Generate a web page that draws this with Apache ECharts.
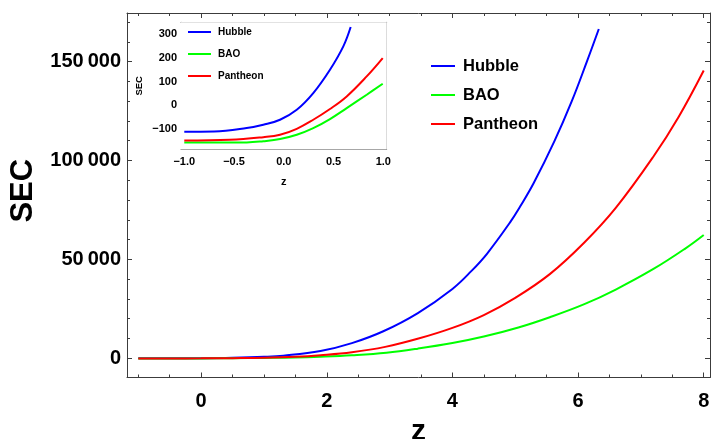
<!DOCTYPE html>
<html>
<head>
<meta charset="utf-8">
<script src="https://cdn.jsdelivr.net/npm/echarts@6.0.0/dist/echarts.min.js"></script>
<style>
  html, body { margin: 0; padding: 0; background: #fff; }
  #chart { width: 711px; height: 439px; }
</style>
</head>
<body>
<div id="chart"></div>
<script>
// ---- strong energy condition (SEC) vs redshift z ----
const seriesNames = ['Hubble', 'BAO', 'Pantheon'];
const seriesColors = ['#0000ff', '#00ff00', '#ff0000'];

// main panel: each curve sampled at its own z values
const zHubble   = [-1, -0.5, 0, 0.5, 1, 1.31, 1.9, 2.4, 2.9, 3.45, 4.0, 4.3, 4.55, 4.92, 5.08, 5.29, 5.62, 5.9, 6.14, 6.33];
const hubble    = [-110, -104, -52, 172, 650, 1250, 3600, 7600, 13600, 22800, 35000, 44000, 52800, 68800, 76800, 88300, 109500, 130000, 150000, 166500];
const zBao      = [-1, -0.5, 0, 0.5, 1, 1.5, 1.9, 2.4, 2.95, 3.45, 4.0, 4.5, 5.05, 5.55, 6.1, 6.6, 7.2, 7.7, 8];
const bao       = [-155, -154, -141, -48, 92, 300, 700, 1450, 2750, 4800, 7600, 10900, 15500, 20700, 27300, 34700, 45100, 55300, 62300];
const zPantheon = [-1, -0.5, 0, 0.5, 1, 1.5, 1.9, 2.4, 2.93, 3.46, 4.0, 4.5, 5.0, 5.55, 6.1, 6.6, 7.2, 7.6, 8];
const pantheon  = [-147, -143, -122, -6, 200, 700, 1500, 3000, 5700, 9900, 15300, 21800, 30500, 42500, 58500, 76000, 102000, 122000, 145500];

// inset panel (-1 <= z <= 1)
const zInsetHubble   = [-1, -0.7, -0.373, -0.206, -0.038, 0.13, 0.296, 0.464, 0.598, 0.672];
const hubbleInset    = [-110, -109, -95, -81, -60, -18, 52, 150, 248, 329];
const zInsetPantheon = [-1, -0.541, -0.206, -0.038, 0.13, 0.296, 0.464, 0.632, 0.833, 0.994];
const pantheonInset  = [-147, -144, -133, -123, -98, -60, -15, 38, 122, 199];
const zInsetBao      = [-1, -0.373, -0.206, -0.038, 0.13, 0.296, 0.464, 0.632, 0.833, 0.994];
const baoInset       = [-155, -155, -150, -141, -123, -95, -57, -11, 45, 91];

// tick positions
const mainXTicks  = [0, 2, 4, 6, 8];
const mainYTicks  = [0, 50000, 100000, 150000];
const insetXTicks = [-1, -0.5, 0, 0.5, 1];
const insetYTicks = [-100, 0, 100, 200, 300];

function steps(from, to, step, skip) {
  const out = [];
  for (let i = 0; from + i * step <= to + 1e-9; i++) {
    const v = Math.round((from + i * step) * 1e6) / 1e6;
    if (!skip.some(s => Math.abs(s - v) < 1e-9)) out.push(v);
  }
  return out;
}
const mainXMinor  = steps(-1, 8, 0.5, mainXTicks);
const mainYMinor  = steps(10000, 170000, 10000, mainYTicks);
const insetXMinor = steps(-1, 1, 0.1, insetXTicks);
const insetYMinor = steps(-180, 340, 20, insetYTicks);

const pairs = (xs, ys) => xs.map((x, i) => [x, ys[i]]);

const FONT = '"Liberation Sans", Arial, sans-serif';
const MAIN_FRAME = '#3c3c3c';
const INSET_FRAME = '#8a8a8a';

function groupDigits(v) {
  return String(v).replace(/\B(?=(\d{3})+(?!\d))/g, '\u2009');
}
function minus(s) { return s.replace('-', '\u2212'); }

// blank labels at the tick values keep the custom tick positions in use
function blankLabels(values) {
  return { show: true, customValues: values, formatter: () => '', color: 'rgba(0,0,0,0)' };
}

// one frame side: a line + long ticks (optionally labelled) and a second axis with short ticks
function frameSide(opts) {
  const base = {
    type: 'value', gridIndex: opts.grid, position: opts.position,
    min: opts.min, max: opts.max, splitLine: { show: false },
  };
  const major = Object.assign({}, base, {
    axisLine: { show: true, onZero: false, lineStyle: { color: opts.color, width: 1 } },
    axisTick: { show: true, inside: true, length: opts.majorLen, customValues: opts.major,
                lineStyle: { color: opts.color, width: 1 } },
    axisLabel: opts.label ? Object.assign({
      show: true, customValues: opts.major, color: '#000', fontFamily: FONT, fontWeight: 'bold'
    }, opts.label) : blankLabels(opts.major),
  });
  if (opts.name) Object.assign(major, opts.name);
  const minor = Object.assign({}, base, {
    axisLine: { show: false, onZero: false },
    axisTick: { show: true, inside: true, length: opts.minorLen, customValues: opts.minor,
                lineStyle: { color: opts.color, width: 1 } },
    axisLabel: blankLabels(opts.minor),
  });
  return [major, minor];
}

const xAxes = [].concat(
  frameSide({ grid: 0, position: 'bottom', min: -1.18, max: 8.1, color: MAIN_FRAME,
    major: mainXTicks, minor: mainXMinor, majorLen: 5, minorLen: 3,
    label: { fontSize: 20, margin: 14 },
    name: { name: 'z', nameLocation: 'middle', nameGap: 33,
            nameTextStyle: { fontSize: 30, fontWeight: 'bold', fontFamily: FONT, color: '#000' } } }),
  frameSide({ grid: 0, position: 'top', min: -1.18, max: 8.1, color: MAIN_FRAME,
    major: mainXTicks, minor: mainXMinor, majorLen: 5, minorLen: 3 }),
  frameSide({ grid: 1, position: 'bottom', min: -1.033, max: 1.034, color: INSET_FRAME,
    major: insetXTicks, minor: insetXMinor, majorLen: 4, minorLen: 2,
    label: { fontSize: 11, margin: 7, formatter: v => minus(v.toFixed(1)) },
    name: { name: 'z', nameLocation: 'middle', nameGap: 27,
            nameTextStyle: { fontSize: 11, fontWeight: 'bold', fontFamily: FONT, color: '#000' } } }),
  frameSide({ grid: 1, position: 'top', min: -1.033, max: 1.034, color: INSET_FRAME,
    major: insetXTicks, minor: insetXMinor, majorLen: 4, minorLen: 2 })
);

const yAxes = [].concat(
  frameSide({ grid: 0, position: 'left', min: -9800, max: 174600, color: MAIN_FRAME,
    major: mainYTicks, minor: mainYMinor, majorLen: 5, minorLen: 3,
    label: { fontSize: 20, margin: 6, formatter: v => groupDigits(v) },
    name: { name: 'SEC', nameLocation: 'middle', nameGap: 87,
            nameTextStyle: { fontSize: 31, fontWeight: 'bold', fontFamily: FONT, color: '#000',
                             padding: [0, 0, 0, 9] } } }),
  frameSide({ grid: 0, position: 'right', min: -9800, max: 174600, color: MAIN_FRAME,
    major: mainYTicks, minor: mainYMinor, majorLen: 5, minorLen: 3 }),
  frameSide({ grid: 1, position: 'left', min: -184, max: 349, color: INSET_FRAME,
    major: insetYTicks, minor: insetYMinor, majorLen: 4, minorLen: 2,
    label: { fontSize: 11, margin: 4, formatter: v => minus(String(v)) },
    name: { name: 'SEC', nameLocation: 'middle', nameGap: 37,
            nameTextStyle: { fontSize: 9.5, fontWeight: 'bold', fontFamily: FONT, color: '#000' } } }),
  frameSide({ grid: 1, position: 'right', min: -184, max: 349, color: INSET_FRAME,
    major: insetYTicks, minor: insetYMinor, majorLen: 4, minorLen: 2 })
);

function line(name, data, xIdx, yIdx, z) {
  const c = seriesColors[seriesNames.indexOf(name)];
  return {
    type: 'line', name, data, xAxisIndex: xIdx, yAxisIndex: yIdx, z,
    showSymbol: false, symbol: 'none', smooth: 0.4,
    lineStyle: { color: c, width: 2 }, itemStyle: { color: c },
    emphasis: { disabled: true }, animation: false,
  };
}

const series = [
  line('Hubble',   pairs(zHubble, hubble),       0, 0, 2),
  line('BAO',      pairs(zBao, bao),             0, 0, 2),
  line('Pantheon', pairs(zPantheon, pantheon),   0, 0, 2),
  line('Hubble',   pairs(zInsetHubble, hubbleInset),     4, 4, 5),
  line('BAO',      pairs(zInsetBao, baoInset),           4, 4, 5),
  line('Pantheon', pairs(zInsetPantheon, pantheonInset), 4, 4, 5),
];

const legendBase = {
  orient: 'vertical', icon: 'rect', selectedMode: false, data: seriesNames,
};

const option = {
  animation: false,
  backgroundColor: '#fff',
  grid: [
    { left: 127, top: 13, right: 1, bottom: 61.5, outerBoundsMode: 'none', containLabel: false },
    { left: 181, top: 22.3, width: 205.7, height: 127, outerBoundsMode: 'none', containLabel: false,
      show: true, backgroundColor: '#fff', borderWidth: 0, z: 3 },
  ],
  xAxis: xAxes,
  yAxis: yAxes,
  legend: [
    Object.assign({}, legendBase, {
      left: 426, top: 52, itemWidth: 24, itemHeight: 2, itemGap: 11,
      textStyle: { fontSize: 16.5, fontWeight: 'bold', fontFamily: FONT, color: '#000',
                   lineHeight: 18, padding: [0, 0, 0, 3] },
    }),
    Object.assign({}, legendBase, {
      left: 183, top: 21, itemWidth: 23, itemHeight: 2, itemGap: 10, z: 8,
      textStyle: { fontSize: 10, fontWeight: 'bold', fontFamily: FONT, color: '#000',
                   lineHeight: 12, padding: [0, 0, 0, 2] },
    }),
  ],
  series,
};

const chart = echarts.init(document.getElementById('chart'), null, { renderer: 'canvas' });
chart.setOption(option);
</script>
</body>
</html>
